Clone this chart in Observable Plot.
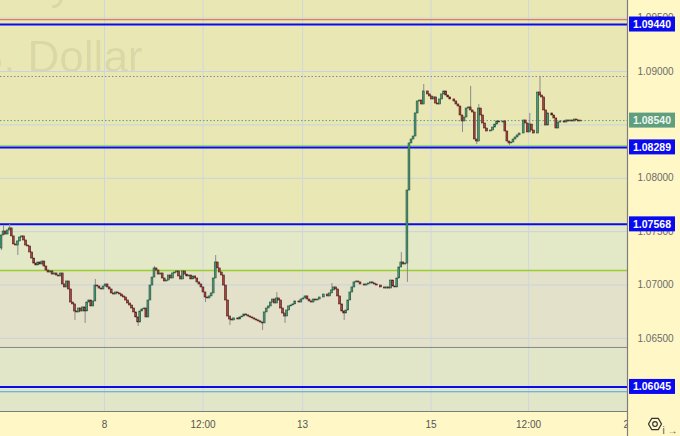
<!DOCTYPE html>
<html><head><meta charset="utf-8">
<script src="https://cdn.jsdelivr.net/npm/d3@7"></script>
<script src="https://cdn.jsdelivr.net/npm/@observablehq/plot@0.6"></script>
<style>
html,body{margin:0;padding:0;background:#FFF8C6;}
#chart svg{display:block;}
</style></head><body><div id="chart"></div>
<script>
// ---- data (EUR/USD, 15-minute candles) ----
const firstOpen = 1.07342;
const closes = [
1.07464,1.07501,1.07473,1.07511,1.07530,1.07455,1.07380,1.07370,1.07408,1.07445,
1.07455,1.07417,1.07370,1.07361,1.07305,1.07248,1.07201,1.07183,1.07211,1.07192,
1.07220,1.07173,1.07136,1.07117,1.07127,1.07098,1.07108,1.07089,1.07080,1.07108,
1.07005,1.06977,1.07033,1.06958,1.06836,1.06818,1.06752,1.06743,1.06780,1.06752,
1.06790,1.06752,1.06836,1.06855,1.06799,1.06846,1.06995,1.06986,1.06967,1.06958,
1.06986,1.07005,1.06977,1.06958,1.06921,1.06911,1.06930,1.06921,1.06911,1.06893,
1.06883,1.06855,1.06827,1.06808,1.06780,1.06743,1.06696,1.06649,1.06752,1.06771,
1.06780,1.06696,1.06855,1.06995,1.07070,1.07155,1.07136,1.07098,1.07108,1.07061,
1.07033,1.07042,1.07089,1.07061,1.07108,1.07117,1.07127,1.07080,1.07052,1.07127,
1.07098,1.07080,1.07089,1.07052,1.07080,1.07061,1.07024,1.07005,1.06977,1.06930,
1.06883,1.06874,1.06893,1.06921,1.07061,1.07211,1.07155,1.07117,1.07089,1.06995,
1.06855,1.06705,1.06677,1.06668,1.06687,1.06687,1.06677,1.06696,1.06705,1.06724,
1.06715,1.06705,1.06696,1.06687,1.06677,1.06668,1.06659,1.06649,1.06640,1.06743,
1.06780,1.06799,1.06836,1.06864,1.06827,1.06874,1.06855,1.06780,1.06733,1.06705,
1.06761,1.06799,1.06808,1.06818,1.06846,1.06846,1.06836,1.06864,1.06874,1.06893,
1.06864,1.06846,1.06836,1.06864,1.06855,1.06864,1.06883,1.06883,1.06911,1.06911,
1.06893,1.06921,1.06949,1.06977,1.06958,1.06893,1.06818,1.06752,1.06733,1.06761,
1.06855,1.06930,1.06977,1.07024,1.07033,1.07024,1.07005,1.07005,1.06995,1.07005,
1.07014,1.07024,1.07014,1.07005,1.06995,1.06995,1.06977,1.06977,1.06967,1.06977,
1.06967,1.07042,1.06986,1.06977,1.07061,1.07164,1.07211,1.07192,1.07201,1.07885,
1.08326,1.08363,1.08391,1.08607,1.08719,1.08728,1.08691,1.08813,1.08813,1.08785,
1.08766,1.08738,1.08757,1.08700,1.08691,1.08738,1.08785,1.08813,1.08775,1.08757,
1.08738,1.08738,1.08719,1.08691,1.08672,1.08588,1.08532,1.08569,1.08653,1.08663,
1.08635,1.08616,1.08363,1.08344,1.08653,1.08588,1.08513,1.08466,1.08438,1.08438,
1.08447,1.08475,1.08503,1.08532,1.08522,1.08522,1.08532,1.08438,1.08344,1.08326,
1.08335,1.08363,1.08382,1.08401,1.08419,1.08419,1.08541,1.08513,1.08429,1.08503,
1.08447,1.08419,1.08419,1.08803,1.08775,1.08757,1.08635,1.08494,1.08607,1.08607,
1.08588,1.08560,1.08466,1.08522,1.08532,1.08532,1.08522,1.08541,1.08532,1.08541,
1.08532,1.08550,1.08541,1.08532,1.08540
];
// notable wick extremes: [candle index, price]
const highWicks = [[1,1.07558],[4,1.07567],[46,1.07052],[75,1.07173],[105,1.07276],[135,1.06930],
  [162,1.07014],[196,1.07305],[207,1.08878],[230,1.08860],[234,1.08691],[259,1.08607],[264,1.08953]];
const lowWicks = [[0,1.07323],[8,1.07276],[36,1.06668],[41,1.06640],[67,1.06612],[100,1.06836],
  [112,1.06621],[128,1.06574],[139,1.06640],[168,1.06668],[199,1.07024],[226,1.08429],[233,1.08316],[249,1.08307]];

const levels = [1.09440, 1.08289, 1.07568, 1.06045];       // blue support/resistance levels
const lastPrice = 1.08540;
const highLine = 1.08953;
const redLine = 1.09485;
const greenLine = 1.07136;
const lightGreenLine = 1.08307;
const grayLine = 1.06415;
const blueGrid = 1.06;
const bandEdges = [1.09665, 1.07568, 1.07136, 1.06415, 1.05815];
const bandFills = ["#E9E7B3", "#E3E8C7", "#E3E1C9", "#E2E6C9"];
const yTicks = [1.095, 1.09, 1.08, 1.075, 1.07, 1.065];
const gridY = [1.095, 1.09, 1.085, 1.08, 1.075, 1.07, 1.065];
const xTickIdx = [50.5, 98.8, 147.6, 210.6, 258.4];
const xTickLabels = ["8", "12:00", "13", "15", "12:00"];
const xEdgeTick = {idx: 307.9, label: "20"};   // label cut by the price-axis border
const watermark = "U.S. Dollar";

// ---- build candles ----
const hiMap = new Map(highWicks), loMap = new Map(lowWicks);
const candles = closes.map((c, i) => {
  const o = i === 0 ? firstOpen : closes[i - 1];
  return {i, open: o, close: c,
    high: hiMap.has(i) ? hiMap.get(i) : Math.max(o, c),
    low: loMap.has(i) ? loMap.get(i) : Math.min(o, c)};
});
const bands = bandFills.map((f, k) => ({y1: bandEdges[k], y2: bandEdges[k + 1], fill: f}));

const W = 680, H = 436, mR = 53, mB = 25;
const font = "Liberation Sans, Arial, sans-serif";

const chart = Plot.plot({
  width: W, height: H,
  marginLeft: 0, marginRight: mR, marginTop: 0, marginBottom: mB,
  style: {fontFamily: font, fontSize: "10px", background: "#FFF8C6"},
  x: {domain: [-0.5, 306.9], axis: null},
  y: {domain: [bandEdges[bandEdges.length - 1], bandEdges[0]], axis: null},
  color: {type: "identity"},
  marks: [
    Plot.rect(bands, {y1: "y1", y2: "y2", fill: "fill"}),
    Plot.text([watermark], {frameAnchor: "top-left", textAnchor: "end", lineAnchor: "top", dx: 142, dy: 40,
      fontSize: 44, fill: "#000", fillOpacity: 0.07}),
    Plot.text(["y"], {frameAnchor: "top-left", textAnchor: "middle", lineAnchor: "top", dx: 61, dy: -33,
      fontSize: 44, fill: "#000", fillOpacity: 0.07}),
    Plot.ruleY(gridY, {stroke: "#c8d3de", strokeWidth: 1}),
    Plot.ruleX(xTickIdx, {stroke: "#cfd7de", strokeWidth: 1}),
    Plot.ruleY([grayLine], {stroke: "#858585", strokeWidth: 1}),
    Plot.ruleY([greenLine], {stroke: "#9acd32", strokeWidth: 1.5}),
    Plot.ruleY([redLine], {stroke: "#e2603c", strokeWidth: 1}),
    Plot.ruleY([lightGreenLine], {stroke: "#8fdc6a", strokeWidth: 1}),
    Plot.ruleY([blueGrid], {stroke: "#4aa3df", strokeWidth: 1}),
    Plot.ruleY([highLine], {stroke: "#8a8a8a", strokeWidth: 1, strokeDasharray: "1.5,2"}),
    Plot.ruleY([lastPrice], {stroke: "#5e9f7e", strokeWidth: 1, strokeDasharray: "1.5,2"}),
    Plot.ruleY(levels, {stroke: "#0a0af0", strokeWidth: 2}),
    Plot.ruleX(candles, {x: "i", y1: "low", y2: "high", stroke: "#8c8c8c", strokeWidth: 1}),
    Plot.rect(candles, {
      x1: d => d.i - 0.45, x2: d => d.i + 0.45, y1: "open", y2: "close",
      fill: d => d.close >= d.open ? "#4c9c7a" : "#a8433d",
      stroke: d => d.close >= d.open ? "#24503d" : "#4d1c19", strokeWidth: 0.6
    }),
    Plot.axisY(yTicks, {anchor: "right", tickSize: 0, tickPadding: 10, tickFormat: d => d.toFixed(5),
      fill: "#6b6b6b", fontSize: 10}),
    Plot.axisX(xTickIdx, {anchor: "bottom", tickSize: 0, tickPadding: 9,
      tickFormat: d => xTickLabels[xTickIdx.indexOf(d)], fill: "#555", fontSize: 10})
  ]
});
document.getElementById("chart").append(chart);

// ---- decorations drawn with the chart's own scales ----
const svg = d3.select(chart);
const xs = chart.scale("x"), ys = chart.scale("y");
const plotRight = W - mR, plotBottom = H - mB;
const defs = svg.insert("defs", ":first-child");
defs.append("clipPath").attr("id", "xclip").attr("clipPathUnits", "userSpaceOnUse").append("rect")
  .attr("x", 0).attr("y", 0).attr("width", plotRight).attr("height", H);

svg.append("g").attr("clip-path", "url(#xclip)").append("text")
  .attr("x", xs.apply(xEdgeTick.idx)).attr("y", plotBottom + 17)
  .attr("text-anchor", "middle").attr("font-family", font).attr("font-size", 10).attr("fill", "#555")
  .text(xEdgeTick.label);

svg.append("line").attr("x1", 0).attr("x2", plotRight + 0.5)
  .attr("y1", plotBottom + 0.5).attr("y2", plotBottom + 0.5).attr("stroke", "#7d7d7d").attr("stroke-width", 1.2);
svg.append("line").attr("x1", plotRight + 0.5).attr("x2", plotRight + 0.5)
  .attr("y1", 0).attr("y2", H).attr("stroke", "#7d7d7d").attr("stroke-width", 1.2);

const boxes = levels.map(v => ({v, fill: "#0a0af0", text: "#ffffff"}))
  .concat([{v: lastPrice, fill: "#5f9e7f", text: "#eef6ee"}]);
const bg = svg.append("g");
boxes.forEach(b => {
  const py = ys.apply(b.v);
  bg.append("rect").attr("x", plotRight + 2).attr("y", py - 7.5).attr("width", 46).attr("height", 15)
    .attr("fill", b.fill);
  bg.append("text").attr("x", plotRight + 25).attr("y", py).attr("dy", "0.36em")
    .attr("text-anchor", "middle").attr("font-family", font).attr("font-size", 10.5)
    .attr("font-weight", "bold").attr("fill", b.text).text(b.v.toFixed(5));
});

// settings icon
const ic = svg.append("g").attr("transform", `translate(655,${plotBottom + 13})`);
ic.append("polygon").attr("points", d3.range(6).map(k => {
  const a = Math.PI / 3 * k;
  return [6.5 * Math.cos(a), 6.5 * Math.sin(a)].join(",");
}).join(" ")).attr("fill", "none").attr("stroke", "#333").attr("stroke-width", 1.2);
ic.append("circle").attr("r", 2.3).attr("fill", "none").attr("stroke", "#333").attr("stroke-width", 1.2);
</script>
</body></html>
